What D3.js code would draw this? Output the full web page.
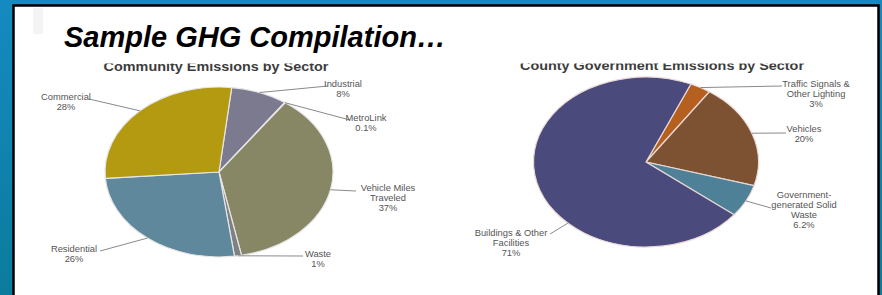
<!DOCTYPE html>
<html>
<head>
<meta charset="utf-8">
<script src="https://cdn.jsdelivr.net/npm/d3@7"></script>
<style>
  body { margin: 0; overflow: hidden; background: #0a84b0; }
  svg { display: block; }
</style>
</head>
<body>
<svg id="chart" width="882" height="295"></svg>
<script>
    // left pie: community emissions, clockwise from just right of 12 o'clock
    var communitySectors = ["Industrial", "MetroLink", "Vehicle Miles Traveled", "Waste", "Residential", "Commercial"]
    var communityShares = [8, 0.1, 37, 1, 26, 28]
    var communityLabels = [
        ["Industrial", "8%"],
        ["MetroLink", "0.1%"],
        ["Vehicle Miles", "Traveled", "37%"],
        ["Waste", "1%"],
        ["Residential", "26%"],
        ["Commercial", "28%"]
    ]

    // right pie: county government emissions
    var countySectors = ["Traffic Signals & Other Lighting", "Vehicles", "Government-generated Solid Waste", "Buildings & Other Facilities"]
    var countyShares = [3, 20, 6.2, 71]
    var countyLabels = [
        ["Traffic Signals &", "Other Lighting", "3%"],
        ["Vehicles", "20%"],
        ["Government-", "generated Solid", "Waste", "6.2%"],
        ["Buildings & Other", "Facilities", "71%"]
    ]

    var slideTitle = "Sample GHG Compilation\u2026"
    var chartTitles = ["Community Emissions by Sector", "County Government Emissions by Sector"]

    var W = 882, H = 295
    var svg = d3.select("#chart")
    var defs = svg.append("defs")

    var grad = defs.append("linearGradient").attr("id", "bg")
        .attr("x1", 0).attr("y1", 0).attr("x2", 0).attr("y2", 1)
    grad.append("stop").attr("offset", "0%").attr("stop-color", "#158ac0")
    grad.append("stop").attr("offset", "100%").attr("stop-color", "#0b7c9c")

    svg.append("rect").attr("width", W).attr("height", H).attr("fill", "url(#bg)")

    // white slide panel with black frame
    svg.append("rect")
        .attr("x", 13.5).attr("y", 5.5)
        .attr("width", 865).attr("height", 300)
        .attr("fill", "#fff")
        .attr("stroke", "#000")
        .attr("stroke-width", 2.5)
    svg.append("rect").attr("x", 33).attr("y", 8).attr("width", 10).attr("height", 26).attr("fill", "#f4f4f4")

    svg.append("text")
        .attr("x", 64).attr("y", 47)
        .attr("font-family", "Liberation Sans, Arial, sans-serif")
        .attr("font-weight", "bold")
        .attr("font-style", "italic")
        .attr("font-size", 29)
        .attr("fill", "#000")
        .text(slideTitle)

    // chart titles are cut off at the top in the source picture
    defs.append("clipPath").attr("id", "titleClip")
        .append("rect").attr("x", 0).attr("y", 63.5).attr("width", W).attr("height", 20)

    var labelFont = "Liberation Sans, Arial, sans-serif"
    var stretch = 1.1

    function drawPie(opts) {
        var g = svg.append("g")
        var ratio = opts.rx / opts.ry

        g.append("g")
            .attr("clip-path", "url(#titleClip)")
          .append("text")
            .attr("transform", `translate(${opts.titleX},${opts.titleY}) scale(1.2,1)`)
            .attr("text-anchor", "middle")
            .attr("font-family", labelFont)
            .attr("font-weight", "bold")
            .attr("font-size", 12)
            .attr("fill", "#3c3c3c")
            .text(opts.title)

        var pie = d3.pie().sort(null)
            .startAngle(opts.start * Math.PI / 180)
            .endAngle(opts.start * Math.PI / 180 + 2 * Math.PI)
        var arcs = pie(opts.values)
        var arc = d3.arc().innerRadius(0).outerRadius(opts.ry)

        var color = d3.scaleOrdinal().domain(opts.names).range(opts.colors)

        g.append("g")
            .attr("transform", `translate(${opts.cx},${opts.cy}) scale(${ratio},1)`)
            .selectAll("path")
            .data(arcs)
            .join("path")
                .attr("d", arc)
                .attr("fill", (d, i) => color(opts.names[i]))
                .attr("stroke", opts.edge)
                .attr("stroke-width", 1.2)
                .attr("vector-effect", "non-scaling-stroke")

        // leader lines from the rim to each label
        function rim(a) {
            return [opts.cx + opts.rx * Math.sin(a), opts.cy - opts.ry * Math.cos(a)]
        }
        arcs.forEach((d, i) => {
            var place = opts.place[i]
            var a = place.edge != null ? place.edge * Math.PI / 180 : (d.startAngle + d.endAngle) / 2
            var p = rim(a)
            g.append("line")
                .attr("x1", p[0]).attr("y1", p[1])
                .attr("x2", place.ax).attr("y2", place.ay)
                .attr("stroke", "#8a8a8a")
                .attr("stroke-width", 1)

            var t = g.append("text")
                .attr("transform", `translate(${place.x},${place.y}) scale(${stretch},1)`)
                .attr("text-anchor", "middle")
                .attr("font-family", labelFont)
                .attr("font-size", 8.5)
                .attr("fill", "#555")
            opts.labels[i].forEach((line, k) => {
                t.append("tspan").attr("x", 0).attr("y", 3 + k * 10).text(line)
            })
        })
    }

    drawPie({
        title: chartTitles[0], titleX: 216, titleY: 70.5,
        cx: 219, cy: 172, rx: 114, ry: 85, start: 6.4,
        names: communitySectors, values: communityShares, labels: communityLabels,
        colors: ["#7b7a8f", "#9a9a9a", "#878665", "#7e8084", "#5f889c", "#b39a10"],
        edge: "#e6e6e6",
        place: [
            {x: 343, y: 84, ax: 328, ay: 86},
            {x: 366, y: 118, ax: 350, ay: 120},
            {x: 388, y: 188, ax: 356, ay: 191},
            {x: 318, y: 254, ax: 303, ay: 256},
            {x: 74, y: 249, ax: 100, ay: 251},
            {x: 66, y: 97, ax: 89, ay: 99}
        ]
    })

    drawPie({
        title: chartTitles[1], titleX: 662, titleY: 69.5,
        cx: 646, cy: 162, rx: 112.5, ry: 85, start: 23.5,
        names: countySectors, values: countyShares, labels: countyLabels,
        colors: ["#b5601f", "#7d5232", "#4e8097", "#4a4a7c"],
        edge: "#ead9d4",
        place: [
            {x: 816, y: 84, ax: 782, ay: 86},
            {x: 804, y: 129, ax: 786, ay: 133},
            {x: 804, y: 195, ax: 771, ay: 208},
            {x: 511, y: 233, ax: 550, ay: 234, edge: 224}
        ]
    })
</script>
</body>
</html>
